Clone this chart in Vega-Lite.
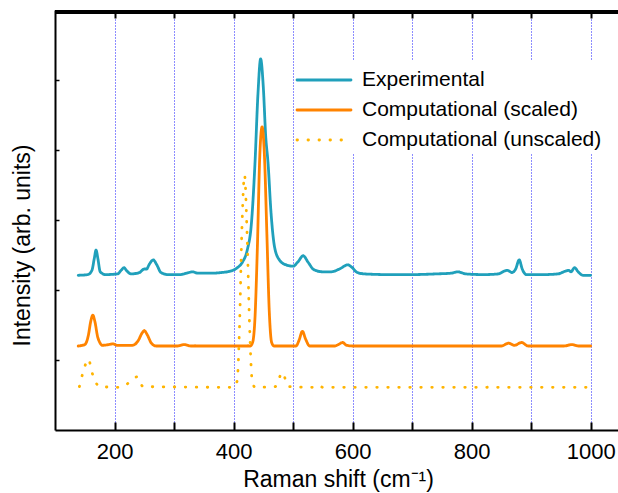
{
  "$schema": "https://vega.github.io/schema/vega-lite/v6.json",
  "autosize": {"type": "none"},
  "width": 566,
  "height": 420,
  "padding": {"left": 55, "top": 10, "right": 0, "bottom": 63},
  "background": "white",
  "config": {
    "view": {"stroke": null},
    "font": "Liberation Sans"
  },
  "data": {
    "values": [
      {"s": "Experimental", "x": 139, "y": 2.21},
      {"s": "Experimental", "x": 155, "y": 2.22},
      {"s": "Experimental", "x": 162, "y": 2.28},
      {"s": "Experimental", "x": 166, "y": 2.45},
      {"s": "Experimental", "x": 169, "y": 2.57},
      {"s": "Experimental", "x": 172, "y": 2.45},
      {"s": "Experimental", "x": 176, "y": 2.26},
      {"s": "Experimental", "x": 185, "y": 2.22},
      {"s": "Experimental", "x": 205, "y": 2.23},
      {"s": "Experimental", "x": 212, "y": 2.29},
      {"s": "Experimental", "x": 216, "y": 2.32},
      {"s": "Experimental", "x": 220, "y": 2.28},
      {"s": "Experimental", "x": 228, "y": 2.23},
      {"s": "Experimental", "x": 242, "y": 2.25},
      {"s": "Experimental", "x": 250, "y": 2.3},
      {"s": "Experimental", "x": 254, "y": 2.3},
      {"s": "Experimental", "x": 258, "y": 2.36},
      {"s": "Experimental", "x": 265, "y": 2.43},
      {"s": "Experimental", "x": 271, "y": 2.36},
      {"s": "Experimental", "x": 278, "y": 2.25},
      {"s": "Experimental", "x": 290, "y": 2.22},
      {"s": "Experimental", "x": 310, "y": 2.22},
      {"s": "Experimental", "x": 325, "y": 2.25},
      {"s": "Experimental", "x": 331, "y": 2.26},
      {"s": "Experimental", "x": 340, "y": 2.24},
      {"s": "Experimental", "x": 360, "y": 2.24},
      {"s": "Experimental", "x": 380, "y": 2.25},
      {"s": "Experimental", "x": 395, "y": 2.27},
      {"s": "Experimental", "x": 405, "y": 2.31},
      {"s": "Experimental", "x": 415, "y": 2.4},
      {"s": "Experimental", "x": 423, "y": 2.57},
      {"s": "Experimental", "x": 430, "y": 2.95},
      {"s": "Experimental", "x": 436, "y": 3.81},
      {"s": "Experimental", "x": 441, "y": 4.8},
      {"s": "Experimental", "x": 445.5, "y": 5.3},
      {"s": "Experimental", "x": 450, "y": 4.9},
      {"s": "Experimental", "x": 454, "y": 4.2},
      {"s": "Experimental", "x": 458, "y": 3.81},
      {"s": "Experimental", "x": 463, "y": 3.1},
      {"s": "Experimental", "x": 469, "y": 2.61},
      {"s": "Experimental", "x": 477, "y": 2.43},
      {"s": "Experimental", "x": 488, "y": 2.36},
      {"s": "Experimental", "x": 500, "y": 2.34},
      {"s": "Experimental", "x": 508, "y": 2.4},
      {"s": "Experimental", "x": 517, "y": 2.49},
      {"s": "Experimental", "x": 525, "y": 2.4},
      {"s": "Experimental", "x": 535, "y": 2.29},
      {"s": "Experimental", "x": 550, "y": 2.26},
      {"s": "Experimental", "x": 564, "y": 2.26},
      {"s": "Experimental", "x": 578, "y": 2.3},
      {"s": "Experimental", "x": 592, "y": 2.36},
      {"s": "Experimental", "x": 598, "y": 2.33},
      {"s": "Experimental", "x": 608, "y": 2.25},
      {"s": "Experimental", "x": 620, "y": 2.23},
      {"s": "Experimental", "x": 660, "y": 2.22},
      {"s": "Experimental", "x": 700, "y": 2.22},
      {"s": "Experimental", "x": 740, "y": 2.23},
      {"s": "Experimental", "x": 765, "y": 2.24},
      {"s": "Experimental", "x": 777, "y": 2.26},
      {"s": "Experimental", "x": 790, "y": 2.23},
      {"s": "Experimental", "x": 820, "y": 2.22},
      {"s": "Experimental", "x": 845, "y": 2.23},
      {"s": "Experimental", "x": 855, "y": 2.27},
      {"s": "Experimental", "x": 860, "y": 2.28},
      {"s": "Experimental", "x": 868, "y": 2.25},
      {"s": "Experimental", "x": 874, "y": 2.3},
      {"s": "Experimental", "x": 880, "y": 2.43},
      {"s": "Experimental", "x": 885, "y": 2.3},
      {"s": "Experimental", "x": 892, "y": 2.22},
      {"s": "Experimental", "x": 920, "y": 2.22},
      {"s": "Experimental", "x": 945, "y": 2.23},
      {"s": "Experimental", "x": 958, "y": 2.27},
      {"s": "Experimental", "x": 963, "y": 2.28},
      {"s": "Experimental", "x": 967, "y": 2.26},
      {"s": "Experimental", "x": 973, "y": 2.32},
      {"s": "Experimental", "x": 979, "y": 2.26},
      {"s": "Experimental", "x": 987, "y": 2.21},
      {"s": "Experimental", "x": 1000, "y": 2.21},

      {"s": "Computational (scaled)", "x": 139, "y": 1.2},
      {"s": "Computational (scaled)", "x": 150, "y": 1.22},
      {"s": "Computational (scaled)", "x": 156, "y": 1.35},
      {"s": "Computational (scaled)", "x": 160, "y": 1.55},
      {"s": "Computational (scaled)", "x": 163.5, "y": 1.64},
      {"s": "Computational (scaled)", "x": 167, "y": 1.55},
      {"s": "Computational (scaled)", "x": 172, "y": 1.32},
      {"s": "Computational (scaled)", "x": 180, "y": 1.21},
      {"s": "Computational (scaled)", "x": 190, "y": 1.22},
      {"s": "Computational (scaled)", "x": 197, "y": 1.23},
      {"s": "Computational (scaled)", "x": 205, "y": 1.21},
      {"s": "Computational (scaled)", "x": 230, "y": 1.21},
      {"s": "Computational (scaled)", "x": 240, "y": 1.28},
      {"s": "Computational (scaled)", "x": 246, "y": 1.38},
      {"s": "Computational (scaled)", "x": 250, "y": 1.42},
      {"s": "Computational (scaled)", "x": 255, "y": 1.36},
      {"s": "Computational (scaled)", "x": 262, "y": 1.24},
      {"s": "Computational (scaled)", "x": 270, "y": 1.2},
      {"s": "Computational (scaled)", "x": 305, "y": 1.2},
      {"s": "Computational (scaled)", "x": 317, "y": 1.22},
      {"s": "Computational (scaled)", "x": 328, "y": 1.2},
      {"s": "Computational (scaled)", "x": 428, "y": 1.2},
      {"s": "Computational (scaled)", "x": 432, "y": 1.25},
      {"s": "Computational (scaled)", "x": 436, "y": 1.6},
      {"s": "Computational (scaled)", "x": 440, "y": 2.6},
      {"s": "Computational (scaled)", "x": 444, "y": 3.9},
      {"s": "Computational (scaled)", "x": 448, "y": 4.33},
      {"s": "Computational (scaled)", "x": 452, "y": 3.9},
      {"s": "Computational (scaled)", "x": 456, "y": 2.8},
      {"s": "Computational (scaled)", "x": 460, "y": 1.7},
      {"s": "Computational (scaled)", "x": 464, "y": 1.25},
      {"s": "Computational (scaled)", "x": 468, "y": 1.2},
      {"s": "Computational (scaled)", "x": 505, "y": 1.2},
      {"s": "Computational (scaled)", "x": 510, "y": 1.28},
      {"s": "Computational (scaled)", "x": 515.7, "y": 1.41},
      {"s": "Computational (scaled)", "x": 521, "y": 1.3},
      {"s": "Computational (scaled)", "x": 528, "y": 1.2},
      {"s": "Computational (scaled)", "x": 570, "y": 1.2},
      {"s": "Computational (scaled)", "x": 578, "y": 1.23},
      {"s": "Computational (scaled)", "x": 583, "y": 1.25},
      {"s": "Computational (scaled)", "x": 590, "y": 1.21},
      {"s": "Computational (scaled)", "x": 600, "y": 1.2},
      {"s": "Computational (scaled)", "x": 850, "y": 1.2},
      {"s": "Computational (scaled)", "x": 862, "y": 1.24},
      {"s": "Computational (scaled)", "x": 872, "y": 1.21},
      {"s": "Computational (scaled)", "x": 884, "y": 1.25},
      {"s": "Computational (scaled)", "x": 895, "y": 1.2},
      {"s": "Computational (scaled)", "x": 955, "y": 1.2},
      {"s": "Computational (scaled)", "x": 968, "y": 1.22},
      {"s": "Computational (scaled)", "x": 980, "y": 1.2},
      {"s": "Computational (scaled)", "x": 1000, "y": 1.2},

      {"s": "Computational (unscaled)", "x": 141, "y": 0.62},
      {"s": "Computational (unscaled)", "x": 148, "y": 0.85},
      {"s": "Computational (unscaled)", "x": 156, "y": 1.01},
      {"s": "Computational (unscaled)", "x": 163, "y": 0.8},
      {"s": "Computational (unscaled)", "x": 175, "y": 0.62},
      {"s": "Computational (unscaled)", "x": 210, "y": 0.61},
      {"s": "Computational (unscaled)", "x": 225, "y": 0.68},
      {"s": "Computational (unscaled)", "x": 238, "y": 0.76},
      {"s": "Computational (unscaled)", "x": 248, "y": 0.62},
      {"s": "Computational (unscaled)", "x": 400, "y": 0.61},
      {"s": "Computational (unscaled)", "x": 406, "y": 0.7},
      {"s": "Computational (unscaled)", "x": 410, "y": 1.47},
      {"s": "Computational (unscaled)", "x": 414, "y": 2.86},
      {"s": "Computational (unscaled)", "x": 418.5, "y": 3.64},
      {"s": "Computational (unscaled)", "x": 422.5, "y": 2.86},
      {"s": "Computational (unscaled)", "x": 427, "y": 1.47},
      {"s": "Computational (unscaled)", "x": 431, "y": 0.73},
      {"s": "Computational (unscaled)", "x": 436, "y": 0.61},
      {"s": "Computational (unscaled)", "x": 470, "y": 0.62},
      {"s": "Computational (unscaled)", "x": 482, "y": 0.82},
      {"s": "Computational (unscaled)", "x": 492, "y": 0.62},
      {"s": "Computational (unscaled)", "x": 535, "y": 0.61},
      {"s": "Computational (unscaled)", "x": 542, "y": 0.64},
      {"s": "Computational (unscaled)", "x": 550, "y": 0.61},
      {"s": "Computational (unscaled)", "x": 825, "y": 0.61},
      {"s": "Computational (unscaled)", "x": 833, "y": 0.62},
      {"s": "Computational (unscaled)", "x": 840, "y": 0.61},
      {"s": "Computational (unscaled)", "x": 900, "y": 0.61},
      {"s": "Computational (unscaled)", "x": 906, "y": 0.62},
      {"s": "Computational (unscaled)", "x": 912, "y": 0.61},
      {"s": "Computational (unscaled)", "x": 1000, "y": 0.61}
    ]
  },
  "resolve": {"axis": {"x": "independent"}},
  "layer": [
    {
      "mark": {"type": "rule", "color": "black", "strokeWidth": 2.5},
      "encoding": {"y": {"datum": 5.97, "type": "quantitative"}}
    },
    {
      "mark": {"type": "line", "interpolate": "monotone", "strokeCap": "round"},
      "encoding": {
        "x": {
          "field": "x", "type": "quantitative",
          "scale": {"domain": [100, 1051], "nice": false, "zero": false},
          "axis": {
            "orient": "bottom",
            "values": [200, 300, 400, 500, 600, 700, 800, 900, 1000],
            "labelExpr": "datum.value % 200 == 0 ? datum.label : ''",
            "format": "d",
            "grid": true, "gridColor": "#1a1aff", "gridDash": [1, 2], "gridWidth": 1,
            "domainColor": "black", "domainWidth": 2,
            "tickColor": "black", "tickWidth": 2, "tickSize": -8,
            "labelFontSize": 22, "labelColor": "black", "labelPadding": 19,
            "title": "Raman shift (cm⁻¹)", "titleFontSize": 23, "titleFontWeight": "normal", "titleColor": "black", "titlePadding": 6
          }
        },
        "y": {
          "field": "y", "type": "quantitative",
          "scale": {"domain": [0, 6], "nice": false, "zero": false},
          "axis": {
            "values": [1, 2, 3, 4, 5],
            "labels": false, "grid": false,
            "domainColor": "black", "domainWidth": 2,
            "tickColor": "black", "tickWidth": 1.5, "tickSize": -4,
            "title": "Intensity (arb. units)", "titleFontSize": 23, "titleFontWeight": "normal", "titleColor": "black",
            "titleX": -33, "titleY": 235, "titleBaseline": "middle", "titleAlign": "center", "titleAngle": -90
          }
        },
        "color": {
          "field": "s", "type": "nominal",
          "scale": {
            "domain": ["Experimental", "Computational (scaled)", "Computational (unscaled)"],
            "range": ["#20a0bb", "#ff8300", "#ffb400"]
          },
          "legend": {
            "title": null, "orient": "none", "legendX": 250, "legendY": 51,
            "symbolType": "M-2,0H2", "symbolSize": 729, "symbolStrokeWidth": 2.8,
            "labelFontSize": 21, "labelColor": "black", "labelOffset": 23, "labelLimit": 400,
            "fillColor": "white", "padding": 4, "rowPadding": 5,
            "encode": {"symbols": {"update": {"strokeCap": {"value": "round"}, "fill": {"value": "transparent"}}}}
          }
        },
        "strokeDash": {
          "field": "s", "type": "nominal",
          "scale": {
            "domain": ["Experimental", "Computational (scaled)", "Computational (unscaled)"],
            "range": [[1, 0], [1, 0], [0.5, 10.5]]
          },
          "legend": {
            "title": null, "orient": "none", "legendX": 250, "legendY": 51,
            "symbolType": "M-2,0H2", "symbolSize": 729, "symbolStrokeWidth": 2.8,
            "labelFontSize": 21, "labelColor": "black", "labelOffset": 23, "labelLimit": 400,
            "fillColor": "white", "padding": 4, "rowPadding": 5,
            "encode": {"symbols": {"update": {"strokeCap": {"value": "round"}, "fill": {"value": "transparent"}}}}
          }
        },
        "strokeWidth": {
          "field": "s", "type": "nominal",
          "scale": {
            "domain": ["Experimental", "Computational (scaled)", "Computational (unscaled)"],
            "range": [2.8, 2.8, 3.6]
          },
          "legend": null
        }
      }
    },
    {
      "mark": {"type": "point", "opacity": 0},
      "encoding": {
        "x": {
          "field": "x", "type": "quantitative",
          "axis": {
            "orient": "top",
            "values": [200, 300, 400, 500, 600, 700, 800, 900, 1000],
            "labels": false, "grid": false, "title": null,
            "domain": false,
            "tickColor": "black", "tickWidth": 2, "tickSize": -8
          }
        },
        "y": {"field": "y", "type": "quantitative"}
      }
    }
  ]
}
